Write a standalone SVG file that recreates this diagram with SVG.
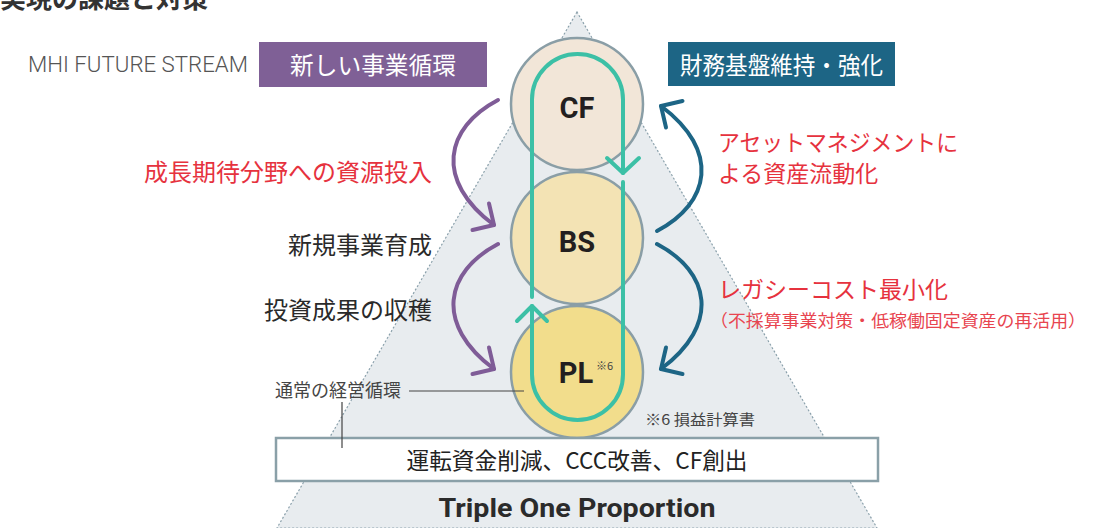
<svg xmlns="http://www.w3.org/2000/svg" width="1103" height="528" viewBox="0 0 1103 528">
<style>
.jp{font-family:"Noto Sans CJK JP","Noto Sans",sans-serif}
.lat{font-family:Roboto,"Noto Sans","Liberation Sans",sans-serif}
.dark{fill:#2a2a2a}
.red{fill:#e6323e}
.circ{stroke:#8a9ea6;stroke-width:2.5}
.node-label{font-family:Roboto,"Noto Sans",sans-serif;font-weight:700;font-size:29px;fill:#231f20;text-anchor:middle}
.loop{fill:none;stroke:#3cc0a6;stroke-width:4;stroke-linecap:round;stroke-linejoin:round}
.curve{fill:none;stroke-width:4;stroke-linecap:round;stroke-linejoin:round}
</style>
<defs>
<g id="curveArrow">
<path d="M498,100 C445,128 434,180 494,225"/>
<path d="M489,203.5 L494,225 L472.5,230"/>
</g>
</defs>
<rect width="1103" height="528" fill="#ffffff"/>
<g id="pyramid">
<polygon points="577,12 277,528 877,528" fill="#e8ecef" stroke="#8aa0ab" stroke-width="1.2" stroke-dasharray="2 2"/>
</g>
<g id="title">
<text class="jp" x="0" y="8" font-size="26" font-weight="700" fill="#333">実現の課題と対策</text>
</g>
<g id="mhi-future-stream">
<text class="lat" x="28" y="72" font-size="22" font-weight="300" fill="#555" textLength="220" lengthAdjust="spacingAndGlyphs">MHI FUTURE STREAM</text>
</g>
<g id="node-new-business-cycle">
<rect x="259" y="42" width="228" height="45" fill="#7f6096"/>
<text class="jp" x="373" y="73.5" font-size="24" fill="#ffffff" text-anchor="middle" textLength="166" lengthAdjust="spacingAndGlyphs">新しい事業循環</text>
</g>
<g id="node-financial-base">
<rect x="668" y="42" width="227" height="44" fill="#1d6585"/>
<text class="jp" x="781.5" y="73.5" font-size="24" fill="#ffffff" text-anchor="middle" textLength="203" lengthAdjust="spacingAndGlyphs">財務基盤維持・強化</text>
</g>
<g id="node-cf">
<circle class="circ" cx="577" cy="104" r="66" fill="#f2e6d8"/>
</g>
<g id="node-bs">
<circle class="circ" cx="577" cy="238" r="66" fill="#f3e3b4"/>
</g>
<g id="node-pl">
<circle class="circ" cx="577" cy="372" r="66" fill="#f2dd8c"/>
</g>
<g id="node-base">
<rect x="276" y="438" width="602" height="43" fill="#ffffff" stroke="#8aa0a8" stroke-width="2.5"/>
<text class="jp" x="577" y="469" font-size="23" fill="#222" text-anchor="middle" textLength="341" lengthAdjust="spacingAndGlyphs">運転資金削減、CCC改善、CF創出</text>
</g>
<g id="connectors">
<path class="loop" d="M532,297 L532,99.5 A45.5,45.5 0 0,1 623,99.5 L623,173"/>
<path class="loop" d="M607,158 L623,173 L639,158"/>
<path class="loop" d="M623,182 L623,374.5 A45.5,45.5 0 0,1 532,374.5 L532,306"/>
<path class="loop" d="M517,321 L532,306 L547,321"/>
<use href="#curveArrow" class="curve" stroke="#7f5c97"/>
<use href="#curveArrow" class="curve" stroke="#7f5c97" transform="translate(0,144)"/>
<use href="#curveArrow" class="curve" stroke="#1d6585" transform="rotate(180,577.5,165.5)"/>
<use href="#curveArrow" class="curve" stroke="#1d6585" transform="matrix(-1,0,0,1,1155,144)"/>
<path d="M409,391 L524,391 M342,402 L342,448" stroke="#444" stroke-width="1.2" fill="none"/>
</g>
<g id="labels">
<text class="node-label" x="577" y="118">CF</text>
<text class="node-label" x="577" y="252">BS</text>
<text class="node-label" x="576" y="383">PL</text>
<text class="jp" x="596" y="370" font-size="11" fill="#444">※6</text>
<text class="jp red" x="432" y="181" font-size="24" text-anchor="end">成長期待分野への資源投入</text>
<text class="jp dark" x="432" y="254" font-size="24" text-anchor="end">新規事業育成</text>
<text class="jp dark" x="432" y="319" font-size="24" text-anchor="end">投資成果の収穫</text>
<text class="jp red" x="718" y="151" font-size="23" textLength="240" lengthAdjust="spacingAndGlyphs">アセットマネジメントに</text>
<text class="jp red" x="718" y="182" font-size="23">よる資産流動化</text>
<text class="jp red" x="718" y="298" font-size="23">レガシーコスト最小化</text>
<text class="jp" x="710" y="327" font-size="17" fill="#e8454f" textLength="376" lengthAdjust="spacingAndGlyphs">（不採算事業対策・低稼働固定資産の再活用）</text>
<text class="jp" x="275" y="397" font-size="18" fill="#444">通常の経営循環</text>
<text class="jp" x="645" y="425" font-size="15" fill="#444" textLength="110" lengthAdjust="spacingAndGlyphs">※6 損益計算書</text>
<text class="lat" x="577" y="517" font-size="26" font-weight="700" fill="#2b2b2b" text-anchor="middle" textLength="277" lengthAdjust="spacingAndGlyphs">Triple One Proportion</text>
</g>
</svg>
